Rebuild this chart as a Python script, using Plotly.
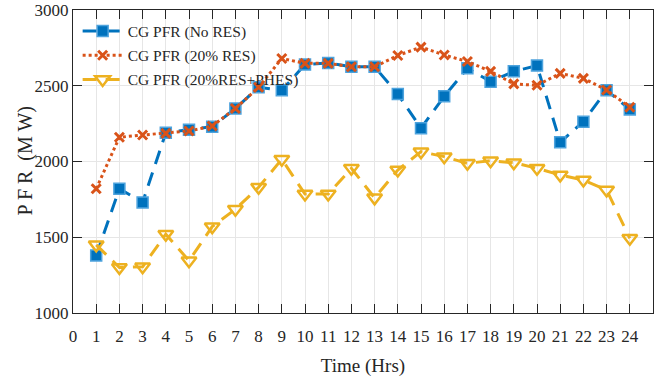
import plotly.graph_objects as go

hours = list(range(1, 25))
no_res = [1380, 1820, 1730, 2190, 2210, 2230, 2350, 2490, 2470, 2640, 2650, 2625,
          2625, 2445, 2220, 2430, 2615, 2527, 2595, 2633, 2127, 2263, 2470, 2344]
res20 = [1820, 2160, 2175, 2186, 2201, 2234, 2350, 2490, 2680, 2648, 2648, 2625,
         2625, 2700, 2755, 2703, 2660, 2595, 2512, 2503, 2582, 2549, 2472, 2358]
res20_phes = [1450, 1300, 1305, 1520, 1345, 1570, 1685, 1830, 2015, 1785, 1785, 1955,
              1760, 1944, 2065, 2032, 1988, 2005, 1992, 1955, 1911, 1878, 1812, 1493]
x_ticks = list(range(0, 25))
y_ticks = [1000, 1500, 2000, 2500, 3000]

FONT = "Liberation Serif"
fig = go.Figure()
fig.add_trace(go.Scatter(
    x=hours, y=no_res, name="CG PFR (No RES)", mode="lines+markers", legendgroup="a",
    line=dict(color="#0072BD", width=3, dash="14px,9px"),
    marker=dict(symbol="square", size=11, color="#0072BD",
                line=dict(color="#4DA3DD", width=1.5))))
fig.add_trace(go.Scatter(
    x=hours, y=res20, name="CG PFR (20% RES)", mode="lines+markers", legendgroup="b",
    line=dict(color="#D95319", width=3, dash="dot"),
    marker=dict(symbol="x-thin", size=9, color="#D95319",
                line=dict(color="#D95319", width=3))))
fig.add_trace(go.Scatter(
    x=hours, y=res20_phes, name="CG PFR (20%RES+PHES)", mode="lines+markers", legendgroup="c",
    line=dict(color="#EDB120", width=3, dash="14px,9px"),
    marker=dict(symbol="triangle-down-open", size=13, color="#EDB120",
                line=dict(color="#EDB120", width=2.5))))

axis_common = dict(
    showline=True, linecolor="#262626", linewidth=1.2, mirror="ticks",
    ticks="inside", ticklen=9, tickwidth=1, tickcolor="#262626",
    showgrid=True, gridcolor="#E6E6E6", gridwidth=1, zeroline=False,
    automargin=False,
    tickfont=dict(family=FONT, size=17, color="#262626"),
)
fig.update_xaxes(range=[0, 25], tickvals=x_ticks, ticklabelstandoff=7, **axis_common,
                 title=dict(text="Time (Hrs)", font=dict(family=FONT, size=19, color="#262626"),
                            standoff=14))
fig.update_yaxes(range=[1000, 3000], tickvals=y_ticks, **axis_common)
fig.add_annotation(text="P F R  (M W)", xref="paper", yref="paper", x=0, y=0.5,
                   xanchor="center", yanchor="middle",
                   xshift=-48, textangle=-90, showarrow=False,
                   font=dict(family=FONT, size=20, color="#262626"))
fig.update_layout(
    width=667, height=383,
    margin=dict(l=73, r=14, t=10, b=70, autoexpand=False),
    plot_bgcolor="white", paper_bgcolor="white",
    legend=dict(x=0.008, y=0.985, xanchor="left", yanchor="top",
                bgcolor="rgba(0,0,0,0)", borderwidth=0,
                font=dict(family=FONT, size=15.5, color="#262626"),
                tracegroupgap=1, itemwidth=40),
    showlegend=True,
)
fig.write_html("out.html")
